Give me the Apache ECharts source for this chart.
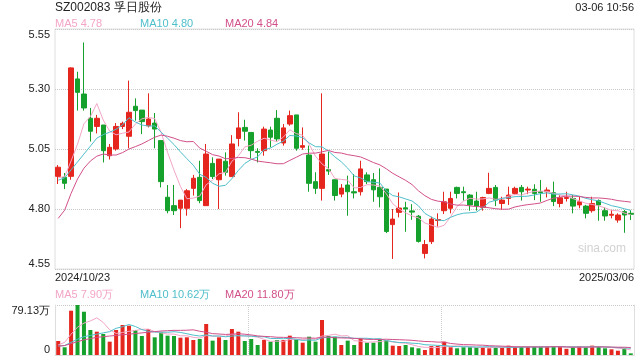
<!DOCTYPE html>
<html><head><meta charset="utf-8">
<script src="https://cdn.jsdelivr.net/npm/echarts@6/dist/echarts.min.js"></script>
<style>html,body{margin:0;padding:0;background:#fff}#c{width:640px;height:360px}</style>
</head><body><div id="c"></div>
<script>
const dates = [
'2024/10/23','2024/10/24','2024/10/25','2024/10/28','2024/10/29','2024/10/30','2024/10/31',
'2024/11/01','2024/11/04','2024/11/05','2024/11/06','2024/11/07','2024/11/08','2024/11/11','2024/11/12','2024/11/13','2024/11/14','2024/11/15','2024/11/18','2024/11/19','2024/11/20','2024/11/21','2024/11/22','2024/11/25','2024/11/26','2024/11/27','2024/11/28','2024/11/29',
'2024/12/02','2024/12/03','2024/12/04','2024/12/05','2024/12/06','2024/12/09','2024/12/10','2024/12/11','2024/12/12','2024/12/13','2024/12/16','2024/12/17','2024/12/18','2024/12/19','2024/12/20','2024/12/23','2024/12/24','2024/12/25','2024/12/26','2024/12/27','2024/12/30','2024/12/31',
'2025/01/02','2025/01/03','2025/01/06','2025/01/07','2025/01/08','2025/01/09','2025/01/10','2025/01/13','2025/01/14','2025/01/15','2025/01/16','2025/01/17','2025/01/20','2025/01/21','2025/01/22','2025/01/23','2025/01/24','2025/01/27',
'2025/02/05','2025/02/06','2025/02/07','2025/02/10','2025/02/11','2025/02/12','2025/02/13','2025/02/14','2025/02/17','2025/02/18','2025/02/19','2025/02/20','2025/02/21','2025/02/24','2025/02/25','2025/02/26','2025/02/27','2025/02/28',
'2025/03/03','2025/03/04','2025/03/05','2025/03/06'];

const opens = [4.936,4.932,4.936,5.342,5.279,5.178,5.144,5.15,5.022,5.05,
5.144,5.103,5.228,5.212,5.147,5.158,5.085,4.849,4.814,4.803,
4.803,4.886,4.932,4.814,4.99,4.922,4.999,4.935,5.094,5.14,
5.119,5.04,5.043,5.129,5.178,5.075,5.154,5.192,5.057,5.025,
4.914,4.886,4.964,4.922,4.862,4.9,4.872,4.872,4.942,4.922,
4.89,4.883,4.735,4.786,4.805,4.792,4.77,4.615,4.664,4.752,
4.793,4.803,4.89,4.872,4.858,4.833,4.807,4.865,4.89,4.823,
4.844,4.865,4.89,4.879,4.882,4.872,4.872,4.868,4.823,4.844,
4.844,4.817,4.812,4.793,4.835,4.793,4.774,4.754,4.789,4.782];
const closes = [4.974,4.907,5.388,5.286,5.221,5.124,5.178,5.043,5.057,5.144,
5.157,5.203,5.21,5.164,5.175,5.133,4.914,4.793,4.793,4.837,
4.876,4.928,4.835,5.029,4.935,5.008,4.953,5.071,5.138,5.124,
5.043,5.036,5.133,5.099,5.092,5.138,5.189,5.053,5.064,4.907,
4.886,5.029,4.958,4.856,4.887,4.872,4.867,4.967,4.914,4.88,
4.851,4.706,4.758,4.804,4.80,4.787,4.665,4.652,4.758,4.756,
4.83,4.844,4.865,4.868,4.817,4.812,4.848,4.886,4.837,4.837,
4.858,4.886,4.872,4.883,4.865,4.868,4.879,4.831,4.847,4.848,
4.812,4.83,4.782,4.823,4.817,4.771,4.778,4.775,4.775,4.778];
const lows = [4.904,4.883,4.922,5.21,5.21,5.081,5.115,4.994,5.006,5.043,
5.133,5.053,5.168,5.112,5.14,5.053,4.89,4.782,4.775,4.72,
4.772,4.856,4.824,4.814,4.925,4.80,4.939,4.935,5.061,5.085,
5.011,4.994,5.022,5.057,5.081,5.064,5.147,5.043,5.047,4.872,
4.863,4.835,4.942,4.835,4.849,4.772,4.844,4.856,4.904,4.83,
4.807,4.70,4.592,4.765,4.705,4.755,4.66,4.594,4.654,4.727,
4.779,4.782,4.844,4.835,4.793,4.793,4.793,4.862,4.812,4.796,
4.817,4.858,4.835,4.862,4.837,4.83,4.848,4.812,4.807,4.831,
4.782,4.803,4.761,4.785,4.751,4.751,4.761,4.743,4.701,4.754];
const highs = [4.983,4.95,5.39,5.372,5.494,5.221,5.192,5.15,5.071,5.158,
5.164,5.335,5.261,5.212,5.282,5.2,5.085,4.9,4.9,4.837,
4.883,4.942,5.001,5.071,5.015,5.008,5.036,5.108,5.203,5.172,
5.119,5.053,5.143,5.143,5.212,5.154,5.21,5.192,5.14,5.064,
4.953,5.282,5.039,4.922,4.904,4.939,4.946,5.001,4.953,4.95,
4.969,4.883,4.80,4.869,4.83,4.82,4.775,4.671,4.768,4.782,
4.872,4.872,4.893,4.893,4.862,4.872,4.851,4.951,4.90,4.851,
4.893,4.893,4.90,4.893,4.903,4.921,4.89,4.914,4.858,4.872,
4.858,4.851,4.817,4.851,4.84,4.807,4.796,4.782,4.796,4.796];

// volume in 万
const volumes = [22.2,12.2,70.1,79.13,68.5,39.6,36.9,33.2,21.1,39.6,
47.5,46.4,39.6,30.1,41.1,28.0,35.9,30.6,30.1,27.4,
28.0,23.7,25.3,49.1,22.7,28.0,23.7,41.1,36.9,22.2,
25.3,15.8,23.7,21.1,23.7,23.7,30.6,24.8,19.5,29.0,
21.1,55.4,30.1,29.0,15.8,22.7,15.8,26.4,19.5,19.5,
24.8,23.7,14.8,14.2,15.8,12.2,10.6,7.9,14.2,14.2,
21.1,12.2,10.6,12.2,12.2,12.2,12.2,10.6,12.2,12.2,
14.8,13.0,13.0,13.0,13.5,13.0,13.0,13.5,13.0,9.8,
13.0,13.5,12.5,14.8,13.0,10.6,9.0,6.8,10.6,2.6];

// moving-average values before enough history is visible
const ma5Lead = [4.93,4.935,5.0,5.07];
const ma10Lead = [4.92,4.93,4.963,4.996,5.029,5.062,5.095,5.11,5.12];
const ma20Lead = [4.761,4.795,4.865,4.925,4.97,5.0,5.02,5.029,5.025,5.025,5.035,5.05,5.06,5.071,5.085,5.099,5.108,5.103,5.095];
const vma5Lead = [16,20,33,44];
const vma10Lead = [14,15,20,25,29,31,33,35,37];
const vma20Lead = [14,15,18,21,24,26,28,29,30,31,32,33,34,35,36,37,38,38.5,39];

const priceMin = 4.55, priceMax = 5.55, priceStep = 0.25;
const volMaxLabel = 79.13;
const priceLegend = ['MA5 4.78','MA10 4.80','MA20 4.84'];
const volLegend = ['MA5 7.90万','MA10 10.62万','MA20 11.80万'];
const titleText = 'SZ002083 孚日股份';
const timeText = '03-06 10:56';

const RED = '#e5261f', GREEN = '#16a02c';
const C5 = '#f3a5c6', C10 = '#4fbfcb', C20 = '#d2508a';
const FONT = '"Liberation Sans", Arial, sans-serif';

function movingAvg(vals, n, lead) {
  return vals.map((v, i) => {
    if (i < n - 1) return lead[i];
    let s = 0; for (let j = i - n + 1; j <= i; j++) s += vals[j];
    return +(s / n).toFixed(4);
  });
}

const candles = dates.map((d, i) => [opens[i], closes[i], lows[i], highs[i]]);
const volBars = volumes.map((v, i) => ({value: v, itemStyle: {color: closes[i] >= opens[i] ? RED : GREEN}}));

const chart = echarts.init(document.getElementById('c'), null, {renderer: 'canvas'});
const lineS = (name, data, color, xi, yi) => ({
  name, type: 'line', data, xAxisIndex: xi, yAxisIndex: yi, symbol: 'none', smooth: false,
  lineStyle: {width: 1, color}, itemStyle: {color}, silent: true, z: 3
});
const txt = (text, x, y, color, size, align) => ({
  type: 'text', x, y, silent: true,
  style: {text, fill: color, font: size + 'px ' + FONT, align: align || 'left', verticalAlign: 'middle',
          textAlign: align || 'left', textVerticalAlign: 'middle'}
});

chart.setOption({
  animation: false,
  backgroundColor: '#fff',
  grid: [
    {left: 55, right: 6, top: 29, height: 240, show: true, borderColor: '#dedede', borderWidth: 1},
    {left: 55, right: 6, top: 305, height: 50, show: false}
  ],
  xAxis: [
    {type: 'category', gridIndex: 0, data: dates, boundaryGap: true,
     axisLine: {show: false}, axisTick: {show: false}, axisLabel: {show: false}, splitLine: {show: false}},
    {type: 'category', gridIndex: 0, data: dates, boundaryGap: false, position: 'bottom',
     axisLine: {show: false}, axisTick: {show: false}, splitLine: {show: false},
     axisLabel: {interval: (i) => i === 0 || i === dates.length - 1, showMinLabel: true, showMaxLabel: true,
       alignMinLabel: 'left', alignMaxLabel: 'right', fontSize: 11, color: '#222', margin: 3, fontFamily: FONT}},
    {type: 'category', gridIndex: 1, data: dates, boundaryGap: true,
     axisLine: {show: true, lineStyle: {color: '#dedede'}}, axisTick: {show: false}, axisLabel: {show: false},
     splitLine: {show: true, interval: (i) => i % 30 === 0 && i > 0, lineStyle: {type: 'dotted', color: '#cfcfcf'}}}
  ],
  yAxis: [
    {type: 'value', gridIndex: 0, min: priceMin, max: priceMax, interval: priceStep,
     axisLine: {show: false}, axisTick: {show: false},
     splitLine: {show: true, lineStyle: {type: 'dotted', color: '#c8c8c8'}},
     axisLabel: {formatter: (v) => v.toFixed(2), fontSize: 11, color: '#222', margin: 5, fontFamily: FONT,
       verticalAlignMaxLabel: 'top', verticalAlignMinLabel: 'bottom'}},
    {type: 'value', gridIndex: 1, min: 0, max: volMaxLabel, interval: volMaxLabel,
     axisLine: {show: true, lineStyle: {color: '#dedede'}}, axisTick: {show: false},
     splitLine: {show: true, lineStyle: {type: 'dotted', color: '#c8c8c8'}},
     axisLabel: {formatter: (v) => v === 0 ? '0' : v.toFixed(2) + '万', fontSize: 11, color: '#222', margin: 5, fontFamily: FONT,
       verticalAlignMaxLabel: 'top', verticalAlignMinLabel: 'bottom'}},
    {type: 'value', gridIndex: 1, position: 'right', min: 0, max: 1,
     axisLine: {show: true, lineStyle: {color: '#dedede'}}, axisTick: {show: false}, axisLabel: {show: false}, splitLine: {show: false}}
  ],
  series: [
    {name: 'K', type: 'candlestick', data: candles, xAxisIndex: 0, yAxisIndex: 0, barWidth: 5,
     itemStyle: {color: RED, color0: GREEN, borderColor: RED, borderColor0: GREEN, borderWidth: 1}, z: 2},
    lineS('MA5', movingAvg(closes, 5, ma5Lead), C5, 0, 0),
    lineS('MA10', movingAvg(closes, 10, ma10Lead), C10, 0, 0),
    lineS('MA20', movingAvg(closes, 20, ma20Lead), C20, 0, 0),
    {name: 'VOL', type: 'bar', data: volBars, xAxisIndex: 2, yAxisIndex: 1, barWidth: 4, z: 2},
    lineS('VMA5', movingAvg(volumes, 5, vma5Lead), C5, 2, 1),
    lineS('VMA10', movingAvg(volumes, 10, vma10Lead), C10, 2, 1),
    lineS('VMA20', movingAvg(volumes, 20, vma20Lead), C20, 2, 1)
  ],
  graphic: [
    txt(titleText, 55, 8, '#222', 12),
    txt(timeText, 634, 8, '#222', 11, 'right'),
    txt(priceLegend[0], 55, 24, C5, 11),
    txt(priceLegend[1], 140, 24, C10, 11),
    txt(priceLegend[2], 225, 24, C20, 11),
    txt(volLegend[0], 55, 295, C5, 11),
    txt(volLegend[1], 140, 295, C10, 11),
    txt(volLegend[2], 225, 295, C20, 11),
    txt('sina.com', 602, 249, '#d2d2d2', 12, 'center')
  ]
});
</script>
</body></html>
